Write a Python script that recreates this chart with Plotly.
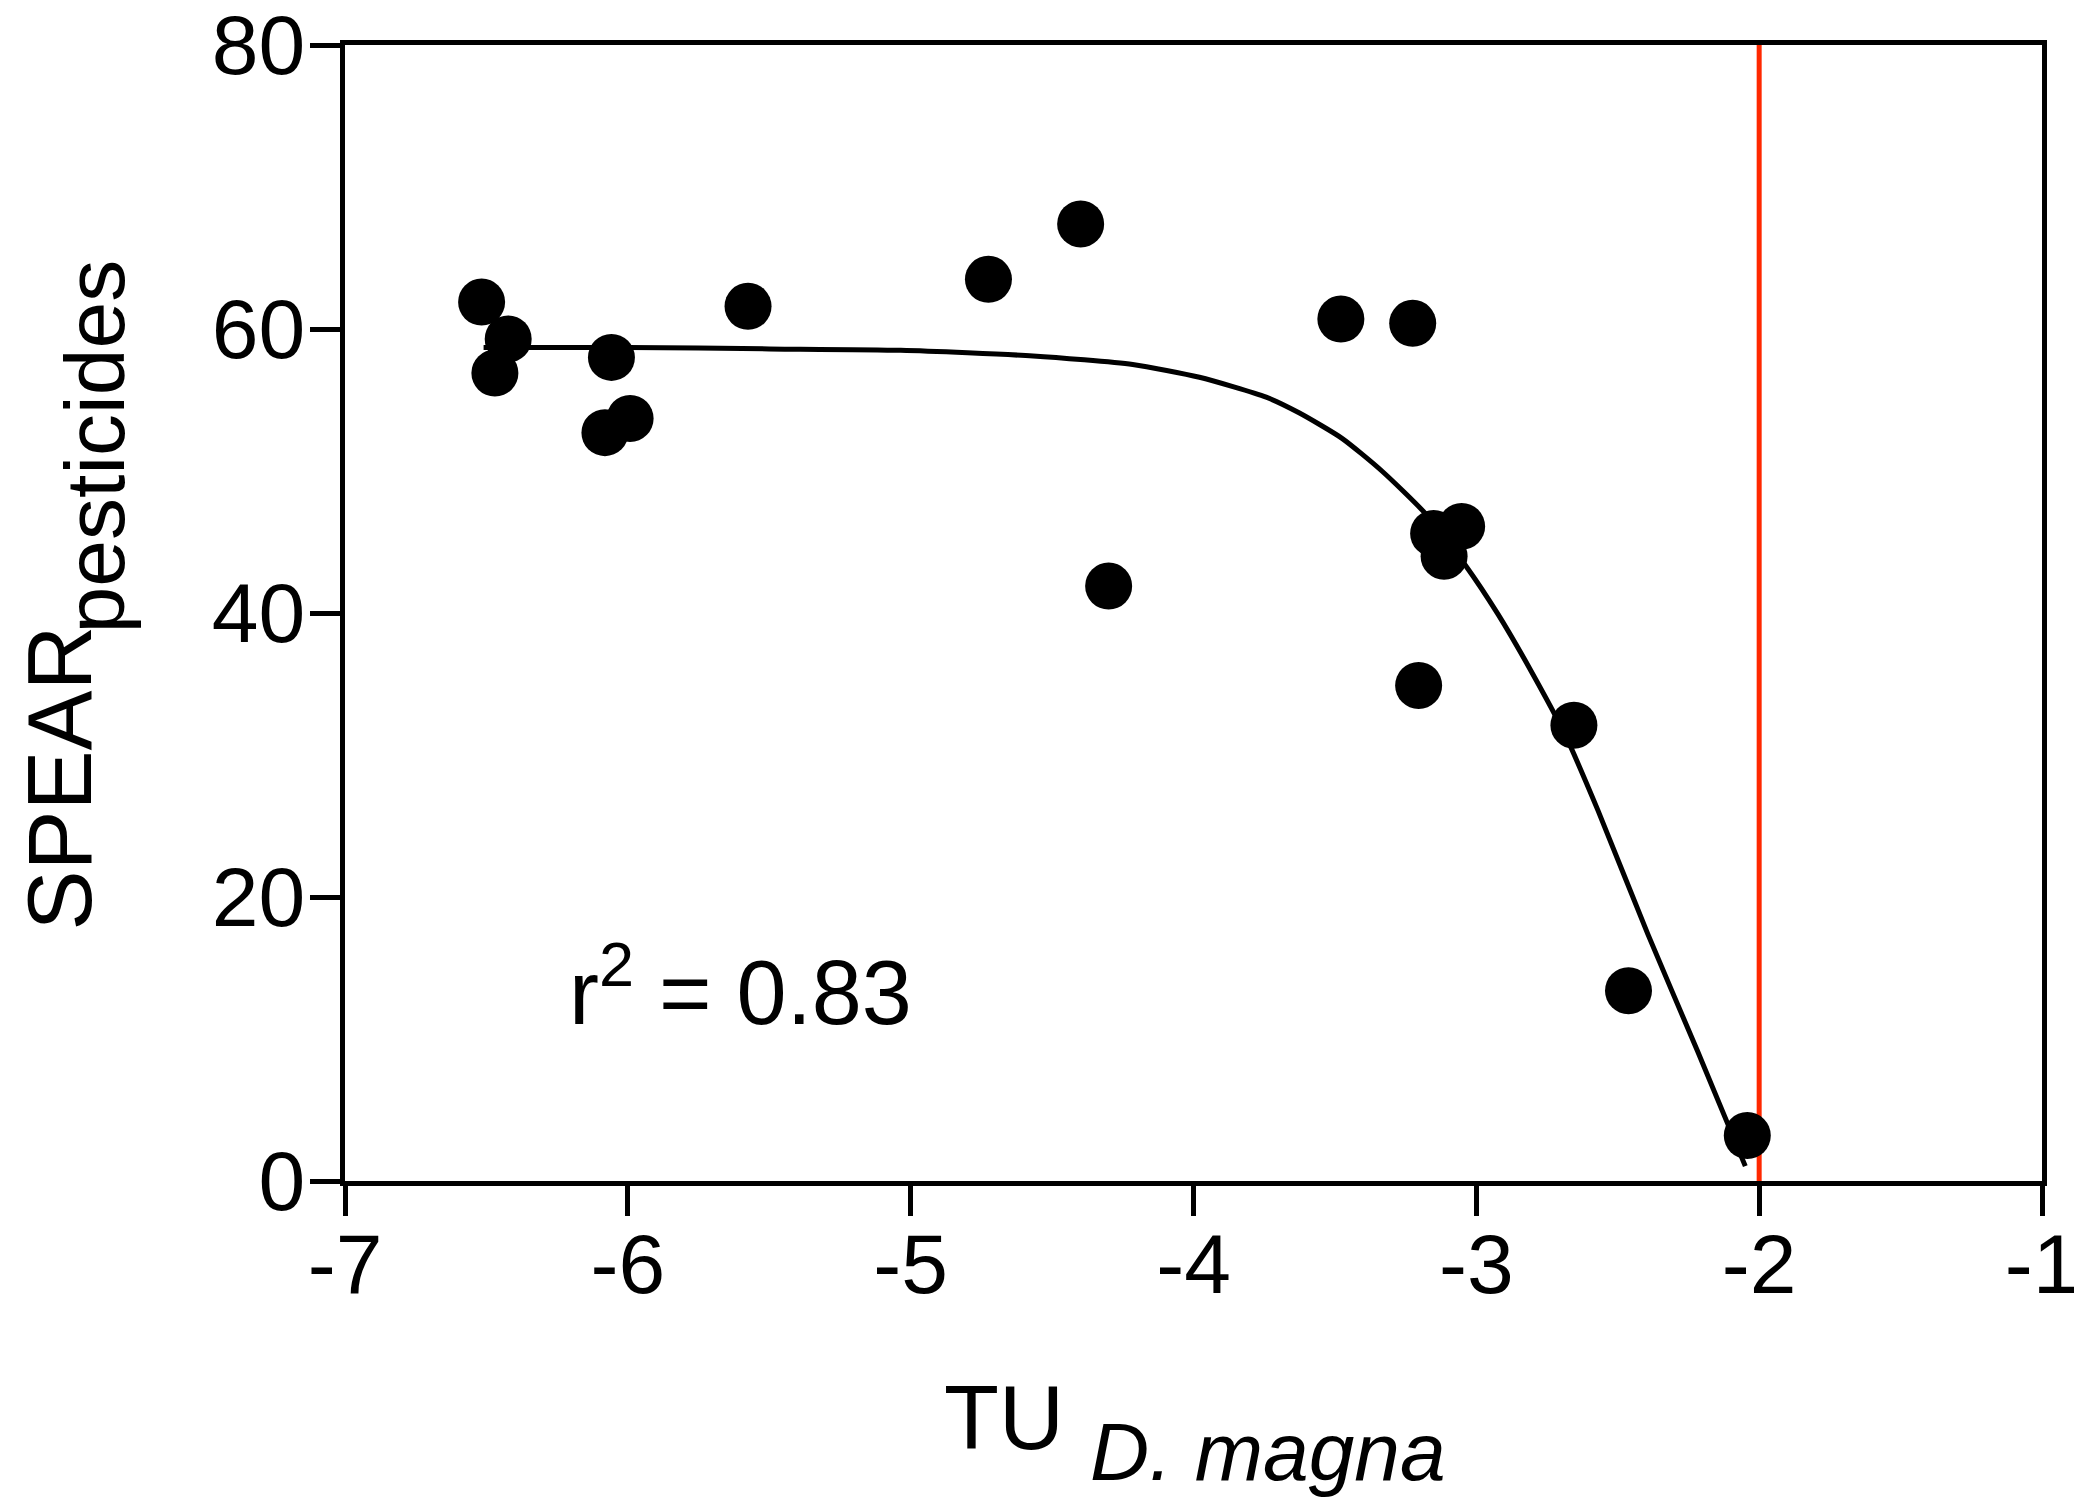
import plotly.graph_objects as go

# Observed data points (TU D. magna, SPEAR pesticides)
tu_obs = [-6.517, -6.423, -6.47, -6.058, -6.081, -5.992, -5.575, -4.725, -4.399, -4.30,
          -3.479, -3.225, -3.151, -3.052, -3.114, -3.204, -2.655, -2.462, -2.042]
spear_obs = [61.9, 59.3, 56.9, 58.0, 52.7, 53.7, 61.6, 63.5, 67.4, 41.9,
             60.7, 60.4, 45.6, 46.1, 44.0, 34.9, 32.1, 13.4, 3.2]

# Fitted curve
tu_fit = [-6.51, -6.0, -5.5, -5.035, -4.567, -4.215, -3.979, -3.743, -3.627, -3.475,
          -3.334, -3.18, -3.04, -2.923, -2.806, -2.688, -2.57, -2.394, -2.218, -2.049]
spear_fit = [58.7, 58.7, 58.6, 58.5, 58.1, 57.5, 56.6, 55.2, 54.1, 52.3,
             50.0, 47.0, 43.4, 39.9, 35.9, 31.5, 26.1, 17.4, 9.15, 1.05]

threshold_tu = -2.0
x_ticks = [-7, -6, -5, -4, -3, -2, -1]
y_ticks = [0, 20, 40, 60, 80]

FONT = "Liberation Sans, Arial, sans-serif"

fig = go.Figure()
fig.add_trace(go.Scatter(x=tu_fit, y=spear_fit, mode="lines",
                         line=dict(color="black", width=5, shape="spline", smoothing=0.6),
                         showlegend=False))
fig.add_trace(go.Scatter(x=[threshold_tu, threshold_tu], y=[0, 80], mode="lines",
                         line=dict(color="rgb(255,40,0)", width=5), showlegend=False))
fig.add_trace(go.Scatter(x=tu_obs, y=spear_obs, mode="markers",
                         marker=dict(color="black", size=47, line=dict(width=0)),
                         showlegend=False))

fig.update_layout(
    width=2082, height=1499,
    margin=dict(l=337, r=48, t=37, b=326, autoexpand=False),
    paper_bgcolor="white", plot_bgcolor="white",
    font=dict(family=FONT, color="black", size=82),
    showlegend=False,
)
axis_style = dict(showgrid=False, zeroline=False, showline=True, mirror=True,
                  linecolor="black", linewidth=5, ticks="outside", ticklen=30,
                  tickwidth=5, tickcolor="black", ticklabeloverflow="allow",
                  automargin=False, tickfont=dict(size=84, family=FONT))
fig.update_xaxes(range=[-7, -1], tickvals=x_ticks, ticktext=[str(v) for v in x_ticks],
                 ticklabelstandoff=-24, **axis_style)
fig.update_yaxes(range=[0, 80], tickvals=y_ticks, ticktext=[str(v) for v in y_ticks],
                 ticklabelstandoff=-12, **axis_style)

# Axis titles
fig.add_annotation(text="TU", xref="paper", yref="paper", x=0.3518, y=-0.2082,
                   xanchor="left", yanchor="middle", showarrow=False,
                   font=dict(size=90, family=FONT))
fig.add_annotation(text="<i>D. magna</i>", xref="paper", yref="paper", x=0.4378, y=-0.2377,
                   xanchor="left", yanchor="middle", showarrow=False,
                   font=dict(size=82, family=FONT))
fig.add_annotation(text="SPEAR", xref="paper", yref="paper", x=-0.1677, y=0.3546,
                   xanchor="center", yanchor="middle", textangle=-90, showarrow=False,
                   font=dict(size=90, family=FONT))
fig.add_annotation(text="pesticides", xref="paper", yref="paper", x=-0.1471, y=0.647,
                   xanchor="center", yanchor="middle", textangle=-90, showarrow=False,
                   font=dict(size=84, family=FONT))

# r^2 label
fig.add_annotation(text="r<sup>2</sup> = 0.83", xref="x", yref="y", x=-6.215, y=13.7,
                   xanchor="left", yanchor="middle", showarrow=False,
                   font=dict(size=90, family=FONT))

fig.write_html("out.html")
